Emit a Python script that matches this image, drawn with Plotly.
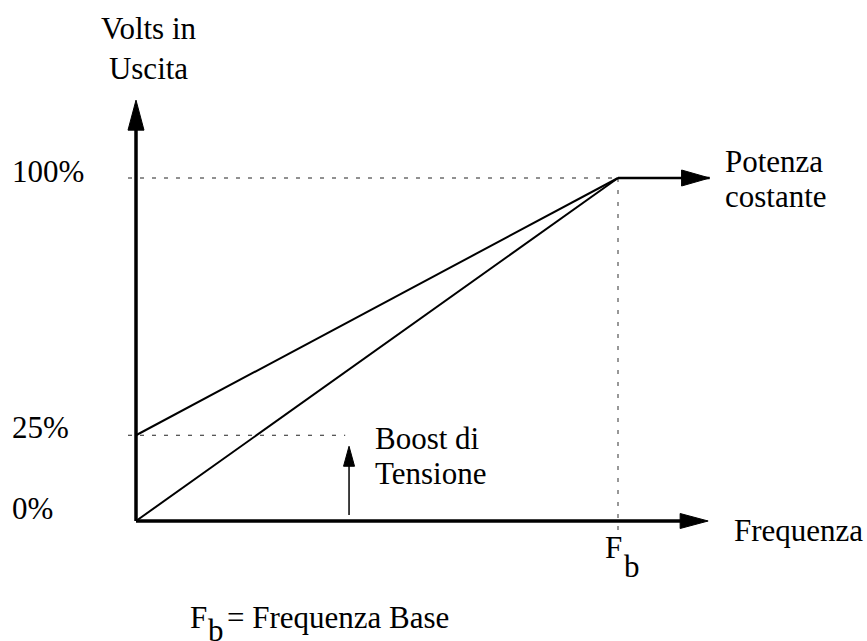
import plotly.graph_objects as go

# Frequency is expressed in units of the base frequency F_b, voltage in percent.
freq_vf = [0, 1]             # 0 Hz -> F_b
volts_vf = [0, 100]          # plain V/f ramp
volts_boost = [25, 100]      # ramp starting from the boost voltage
freq_const = [1, 1.19]       # above F_b the voltage stays constant
volts_const = [100, 100]
y_ticks = [0, 25, 100]
y_tick_labels = ["0%", "25%", "100%"]
boost_level = 25
x_axis_end = 1.187
y_axis_end = 122.7
boost_arrow_x = 0.442
boost_dash_end = 0.434

# Page geometry (pixels) used to place the axes
W, H = 867, 641
X0_PX, Y0_PX = 136, 521      # origin
FB_PX, TOP_PX = 618, 178     # F_b and 100 %
SX = (FB_PX - X0_PX) / 1.0
SY = (Y0_PX - TOP_PX) / 100.0

def to_px(x, y):
    return X0_PX + x * SX, Y0_PX - y * SY

def to_data(px, py):
    return (px - X0_PX) / SX, (Y0_PX - py) / SY

FONT = dict(family="Liberation Serif", size=31, color="black")

fig = go.Figure()

def line(xs, ys, width=2, color="black", dash="solid"):
    fig.add_trace(go.Scatter(x=xs, y=ys, mode="lines", hoverinfo="skip",
                             line=dict(color=color, width=width, dash=dash)))

def head(tip_x, tip_y, dx, dy, length, width):
    """Filled triangular arrow head; direction (dx, dy) in screen space."""
    tx, ty = to_px(tip_x, tip_y)
    bx, by = tx - dx * length, ty - dy * length
    nx, ny = -dy, dx
    pts = [(tx, ty), (bx + nx * width / 2, by + ny * width / 2),
           (bx - nx * width / 2, by - ny * width / 2)]
    d = [to_data(px, py) for px, py in pts]
    path = "M{},{} L{},{} L{},{} Z".format(d[0][0], d[0][1], d[1][0], d[1][1], d[2][0], d[2][1])
    fig.add_shape(type="path", path=path, xref="x", yref="y",
                  fillcolor="black", line=dict(color="black", width=1))

tick_len = 8 / SX
dash_style = "4px,8px"

# Dashed reference lines
line([-tick_len, 1], [volts_const[0], volts_const[0]], width=1, color="#222", dash=dash_style)
line([-tick_len, boost_dash_end], [boost_level, boost_level], width=1, color="#222", dash=dash_style)
line([freq_vf[1], freq_vf[1]], [volts_const[0], -9 / SY], width=1.5, color="#777", dash=dash_style)

# Characteristic curves
line(freq_vf, volts_vf, width=2)
line(freq_vf, volts_boost, width=2)
line(freq_const, volts_const, width=2.5)
head(freq_const[1], volts_const[1], 1, 0, 28, 16)

# Axes with arrow heads
line([0, x_axis_end - 20 / SX], [0, 0], width=3.5)
head(x_axis_end, 0, 1, 0, 28, 15)
line([0, 0], [0, y_axis_end - 20 / SY], width=3.5)
head(0, y_axis_end, 0, -1, 30, 16)

# Boost arrow
boost_tip = boost_level - 11 / SY
line([boost_arrow_x, boost_arrow_x], [6 / SY, boost_tip - 15 / SY], width=1.5)
head(boost_arrow_x, boost_tip, 0, -1, 20, 11)

def text(s, x_px, y_px, anchor="left"):
    fig.add_annotation(text=s, x=x_px / W, y=1 - y_px / H, xref="paper", yref="paper",
                       xanchor=anchor, yanchor="middle", showarrow=False, font=FONT,
                       align="center")

# Axis titles and notes
text("Volts in<br>Uscita", 149, 48, anchor="center")
text("Potenza", 723, 162)
text("costante", 723, 196)
text("Boost di", 373, 438)
text("Tensione", 373, 473)
text("Frequenza", 732, 530)

# Y tick labels, placed next to their levels
for v, lab in zip(y_ticks, y_tick_labels):
    _, py = to_px(0, v)
    offset = {0: -13, 25: -8, 100: -7}[v]
    text(lab, 10, py + offset)

# F_b at the knee of the characteristic
text("F", 603, 547)
text("b", 622, 566)

# Legend for F_b
text("F", 188, 617)
text("b", 206, 630)
text("= Frequenza Base", 225, 617)

fig.update_layout(
    width=W, height=H, margin=dict(l=0, r=0, t=0, b=0),
    paper_bgcolor="white", plot_bgcolor="white", showlegend=False,
    xaxis=dict(range=[to_data(0, 0)[0], to_data(W, 0)[0]], visible=False, fixedrange=True),
    yaxis=dict(range=[to_data(0, H)[1], to_data(0, 0)[1]], visible=False, fixedrange=True),
)

fig.write_html("out.html")
